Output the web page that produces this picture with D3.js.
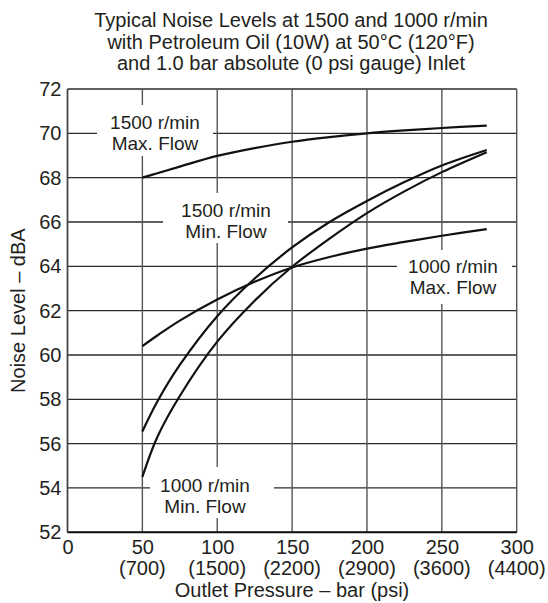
<!DOCTYPE html>
<html>
<head>
<meta charset="utf-8">
<script src="https://cdn.jsdelivr.net/npm/d3@7"></script>
<style>
  html, body { margin: 0; padding: 0; background: #fff; }
  svg { display: block; }
  text { font-family: "Liberation Sans", Arial, sans-serif; fill: #231f20; }
</style>
</head>
<body>
<script>
// ---- data ----
const titleLines = [
  "Typical Noise Levels at 1500 and 1000 r/min",
  "with Petroleum Oil (10W) at 50°C (120°F)",
  "and 1.0 bar absolute (0 psi gauge) Inlet"
];
const xTicks = [0, 50, 100, 150, 200, 250, 300];
const xTickPsi = ["", "(700)", "(1500)", "(2200)", "(2900)", "(3600)", "(4400)"];
const yTicks = [52, 54, 56, 58, 60, 62, 64, 66, 68, 70, 72];
const pressure = [50, 60, 75, 100, 125, 150, 175, 200, 225, 250, 280];
const max1500 = [68.0, 68.2, 68.5, 68.98, 69.33, 69.62, 69.83, 70.0, 70.13, 70.24, 70.35];
const min1500 = [56.55, 57.9, 59.55, 61.75, 63.45, 64.85, 66.0, 66.95, 67.8, 68.55, 69.25];
const max1000 = [60.4, 60.88, 61.55, 62.5, 63.3, 63.95, 64.42, 64.8, 65.1, 65.38, 65.68];
const min1000 = [54.5, 56.3, 58.15, 60.6, 62.45, 63.98, 65.25, 66.4, 67.38, 68.25, 69.15];
const seriesLabels = [
  ["1500 r/min", "Max. Flow"],
  ["1500 r/min", "Min. Flow"],
  ["1000 r/min", "Max. Flow"],
  ["1000 r/min", "Min. Flow"]
];

// ---- layout ----
const W = 548, H = 603;
const svg = d3.select("body").append("svg").attr("width", W).attr("height", H);
const x = d3.scaleLinear().domain([0, 300]).range([67.5, 516.7]);
const y = d3.scaleLinear().domain([52, 72]).range([532.3, 89]);

// title
svg.append("g").selectAll("text").data(titleLines).join("text")
  .attr("x", 291).attr("y", (d, i) => 27 + i * 21.5)
  .attr("text-anchor", "middle").attr("font-size", 20).text(d => d);

// grid
const grid = svg.append("g");
grid.selectAll("line.h").data(yTicks).join("line")
  .attr("x1", x(0)).attr("x2", x(300)).attr("y1", d => y(d)).attr("y2", d => y(d))
  .attr("stroke", "#2a2a2a").attr("stroke-width", 1.3);
grid.selectAll("line.v").data(xTicks).join("line")
  .attr("x1", d => x(d)).attr("x2", d => x(d)).attr("y1", y(52)).attr("y2", y(72))
  .attr("stroke", "#555").attr("stroke-width", 1.4);

// label boxes (white, hide grid)
const labelPos = [
  { cx: 155, box: [97, 105, 213, 156], base: 128.5 },
  { cx: 226, box: [163, 193, 288, 243], base: 216.5 },
  { cx: 453, box: [397, 250, 512, 304], base: 273 },
  { cx: 205, box: [150, 467, 274, 518], base: 492 }
];
svg.append("g").selectAll("rect").data(labelPos).join("rect")
  .attr("x", d => d.box[0]).attr("y", d => d.box[1])
  .attr("width", d => d.box[2] - d.box[0]).attr("height", d => d.box[3] - d.box[1])
  .attr("fill", "#fff");

// frame
svg.append("line").attr("x1", x(0)).attr("x2", x(300)).attr("y1", y(52)).attr("y2", y(52))
  .attr("stroke", "#111").attr("stroke-width", 2);
svg.append("line").attr("x1", x(0)).attr("x2", x(0)).attr("y1", y(52)).attr("y2", y(72))
  .attr("stroke", "#444").attr("stroke-width", 1.5);

// axis tick labels
const yAxis = d3.axisLeft(y).tickValues(yTicks).tickSize(0).tickPadding(6);
const gy = svg.append("g").attr("transform", `translate(${x(0)},0)`).call(yAxis);
gy.select(".domain").remove();
gy.selectAll("text").attr("font-size", 20).attr("font-family", "Liberation Sans, Arial, sans-serif").attr("fill", "#231f20");

const xAxis = d3.axisBottom(x).tickValues(xTicks).tickSize(0).tickPadding(8);
const gx = svg.append("g").attr("transform", `translate(0,${y(52)})`).call(xAxis);
gx.select(".domain").remove();
gx.selectAll("text").attr("font-size", 20).attr("font-family", "Liberation Sans, Arial, sans-serif").attr("fill", "#231f20");
svg.append("g").selectAll("text").data(xTicks).join("text")
  .attr("x", d => x(d)).attr("y", 575).attr("text-anchor", "middle").attr("font-size", 20)
  .text((d, i) => xTickPsi[i]);

// axis titles
svg.append("text").attr("x", 292).attr("y", 597).attr("text-anchor", "middle")
  .attr("font-size", 20).text("Outlet Pressure – bar (psi)");
svg.append("text").attr("transform", `translate(25,${(y(52) + y(72)) / 2}) rotate(-90)`)
  .attr("text-anchor", "middle").attr("font-size", 20).text("Noise Level – dBA");

// curves
const line = d3.line().x(d => x(d[0])).y(d => y(d[1])).curve(d3.curveCatmullRom.alpha(0.5));
const series = [max1500, min1500, max1000, min1000];
svg.append("g").selectAll("path").data(series).join("path")
  .attr("d", s => line(pressure.map((p, i) => [p, s[i]])))
  .attr("fill", "none").attr("stroke", "#111").attr("stroke-width", 2.2);

// series labels
const lg = svg.append("g");
labelPos.forEach((p, i) => {
  lg.append("text").attr("x", p.cx).attr("y", p.base).attr("text-anchor", "middle")
    .attr("font-size", 19).text(seriesLabels[i][0]);
  lg.append("text").attr("x", p.cx).attr("y", p.base + 21).attr("text-anchor", "middle")
    .attr("font-size", 19).text(seriesLabels[i][1]);
});
</script>
</body>
</html>
